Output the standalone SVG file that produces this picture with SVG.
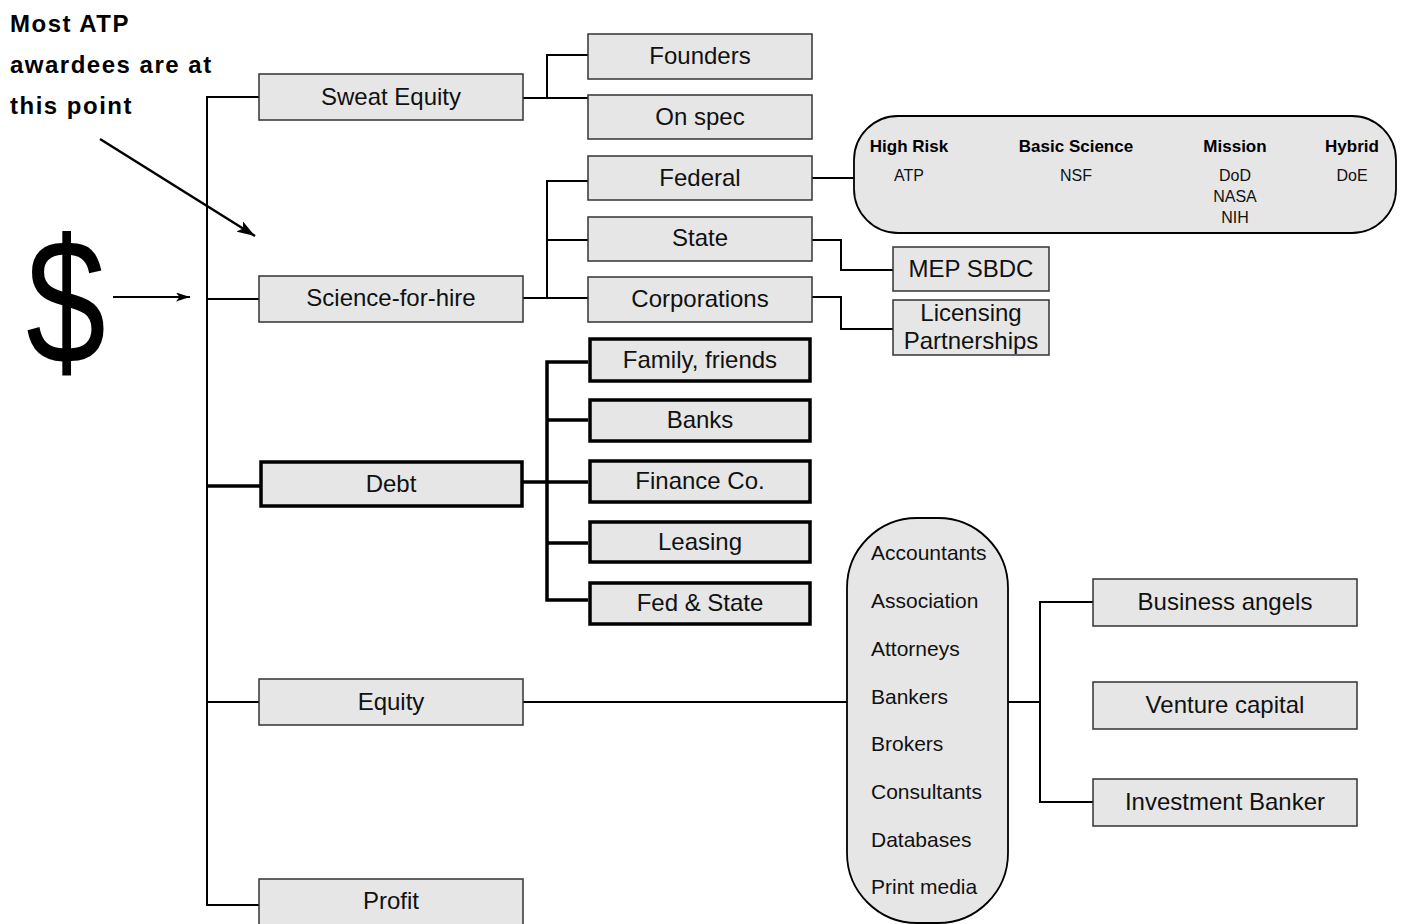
<svg xmlns="http://www.w3.org/2000/svg" width="1403" height="924" viewBox="0 0 1403 924">
  <style>
    .box { fill: #e6e6e6; stroke: #333; stroke-width: 1.5; }
    .box-bold { fill: #e6e6e6; stroke: #000; stroke-width: 3.5; }
    .pill { fill: #e6e6e6; stroke: #000; stroke-width: 1.8; }
    .lbl { font-family: "Liberation Sans", Arial, sans-serif; font-size: 24px; fill: #111; text-anchor: middle; }
    .note { font-family: "Liberation Sans", Arial, sans-serif; font-size: 24px; font-weight: bold; fill: #000; letter-spacing: 1.5px; }
    .head { font-family: "Liberation Sans", Arial, sans-serif; font-size: 17px; font-weight: bold; fill: #000; text-anchor: middle; }
    .val { font-family: "Liberation Sans", Arial, sans-serif; font-size: 16px; fill: #111; text-anchor: middle; }
    .item { font-family: "Liberation Sans", Arial, sans-serif; font-size: 21px; fill: #111; }
    .ln { fill: none; stroke: #000; stroke-width: 2; }
    .ln-bold { fill: none; stroke: #000; stroke-width: 3.5; }
  </style>
  <defs>
    <marker id="arrow" viewBox="0 0 14 9" refX="14" refY="4.5" markerWidth="14" markerHeight="9" markerUnits="userSpaceOnUse" orient="auto">
      <path d="M0,0 L14,4.5 L0,9 L3.5,4.5 Z" fill="#000"/>
    </marker>
    <marker id="arrow-lg" viewBox="0 0 18 12" refX="18" refY="6" markerWidth="18" markerHeight="12" markerUnits="userSpaceOnUse" orient="auto">
      <path d="M0,0 L18,6 L0,12 L4,6 Z" fill="#000"/>
    </marker>
  </defs>

  <!-- annotation and money symbol -->
  <g id="annotation">
    <text class="note" x="10" y="32">Most ATP</text>
    <text class="note" x="10" y="73">awardees are at</text>
    <text class="note" x="10" y="114">this point</text>
    <line x1="100" y1="139" x2="255" y2="236" stroke="#000" stroke-width="2.5" marker-end="url(#arrow-lg)"/>
  </g>
  <g id="dollar">
    <text transform="translate(26,363) scale(0.87,1.075)" font-family="Liberation Sans, Arial, sans-serif" font-size="165" fill="#000">$</text>
    <line x1="113" y1="297" x2="190" y2="297" stroke="#000" stroke-width="2" marker-end="url(#arrow)"/>
  </g>

  <!-- connectors -->
  <g id="connectors">
    <!-- trunk -->
    <polyline class="ln" points="259,97 207,97 207,905 259,905"/>
    <line class="ln" x1="207" y1="299" x2="259" y2="299"/>
    <line class="ln-bold" x1="207" y1="486" x2="260" y2="486"/>
    <line class="ln" x1="207" y1="702" x2="259" y2="702"/>
    <!-- sweat equity -->
    <polyline class="ln" points="523,98 588,98"/>
    <polyline class="ln" points="588,55 547,55 547,98"/>
    <!-- science-for-hire -->
    <polyline class="ln" points="523,298 588,298"/>
    <polyline class="ln" points="588,181 547,181 547,298"/>
    <line class="ln" x1="547" y1="240" x2="588" y2="240"/>
    <line class="ln" x1="812" y1="178" x2="855" y2="178"/>
    <polyline class="ln" points="812,240 841,240 841,270 893,270"/>
    <polyline class="ln" points="812,297 841,297 841,329 893,329"/>
    <!-- debt -->
    <line class="ln-bold" x1="523" y1="482" x2="588" y2="482"/>
    <polyline class="ln-bold" points="588,362 547,362 547,600 588,600"/>
    <line class="ln-bold" x1="547" y1="420" x2="588" y2="420"/>
    <line class="ln-bold" x1="547" y1="543" x2="588" y2="543"/>
    <!-- equity -->
    <line class="ln" x1="523" y1="702" x2="847" y2="702"/>
    <line class="ln" x1="1008" y1="702" x2="1040" y2="702"/>
    <polyline class="ln" points="1093,602 1040,602 1040,802 1093,802"/>
  </g>

  <!-- level 1 -->
  <g id="sweat-equity"><rect class="box" x="259" y="74" width="264" height="46"/><text class="lbl" x="391" y="105">Sweat Equity</text></g>
  <g id="science-for-hire"><rect class="box" x="259" y="276" width="264" height="46"/><text class="lbl" x="391" y="306">Science-for-hire</text></g>
  <g id="debt"><rect class="box-bold" x="261" y="462" width="261" height="44"/><text class="lbl" x="391" y="492">Debt</text></g>
  <g id="equity"><rect class="box" x="259" y="679" width="264" height="46"/><text class="lbl" x="391" y="710">Equity</text></g>
  <g id="profit"><rect class="box" x="259" y="879" width="264" height="46"/><text class="lbl" x="391" y="909">Profit</text></g>

  <!-- level 2 -->
  <g id="founders"><rect class="box" x="588" y="34" width="224" height="45"/><text class="lbl" x="700" y="64">Founders</text></g>
  <g id="on-spec"><rect class="box" x="588" y="95" width="224" height="44"/><text class="lbl" x="700" y="125">On spec</text></g>
  <g id="federal"><rect class="box" x="588" y="156" width="224" height="44"/><text class="lbl" x="700" y="186">Federal</text></g>
  <g id="state"><rect class="box" x="588" y="217" width="224" height="44"/><text class="lbl" x="700" y="246">State</text></g>
  <g id="corporations"><rect class="box" x="588" y="277" width="224" height="45"/><text class="lbl" x="700" y="307">Corporations</text></g>

  <g id="family-friends"><rect class="box-bold" x="590" y="339" width="220" height="42"/><text class="lbl" x="700" y="368">Family, friends</text></g>
  <g id="banks"><rect class="box-bold" x="590" y="400" width="220" height="41"/><text class="lbl" x="700" y="428">Banks</text></g>
  <g id="finance-co"><rect class="box-bold" x="590" y="461" width="220" height="41"/><text class="lbl" x="700" y="489">Finance Co.</text></g>
  <g id="leasing"><rect class="box-bold" x="590" y="522" width="220" height="40"/><text class="lbl" x="700" y="550">Leasing</text></g>
  <g id="fed-state"><rect class="box-bold" x="590" y="583" width="220" height="41"/><text class="lbl" x="700" y="611">Fed &amp; State</text></g>

  <!-- level 3 -->
  <g id="federal-programs">
    <rect class="pill" x="854" y="116" width="542" height="117" rx="44" ry="44"/>
    <text class="head" x="909" y="152">High Risk</text>
    <text class="head" x="1076" y="152">Basic Science</text>
    <text class="head" x="1235" y="152">Mission</text>
    <text class="head" x="1352" y="152">Hybrid</text>
    <text class="val" x="909" y="181">ATP</text>
    <text class="val" x="1076" y="181">NSF</text>
    <text class="val" x="1235" y="181">DoD</text>
    <text class="val" x="1235" y="202">NASA</text>
    <text class="val" x="1235" y="223">NIH</text>
    <text class="val" x="1352" y="181">DoE</text>
  </g>
  <g id="mep-sbdc"><rect class="box" x="893" y="247" width="156" height="44"/><text class="lbl" x="971" y="277">MEP SBDC</text></g>
  <g id="licensing"><rect class="box" x="893" y="300" width="156" height="55"/><text class="lbl" x="971" y="321">Licensing</text><text class="lbl" x="971" y="349">Partnerships</text></g>

  <g id="intermediaries">
    <rect class="pill" x="847" y="518" width="161" height="405" rx="70" ry="70"/>
    <text class="item" x="871" y="560">Accountants</text>
    <text class="item" x="871" y="608">Association</text>
    <text class="item" x="871" y="656">Attorneys</text>
    <text class="item" x="871" y="704">Bankers</text>
    <text class="item" x="871" y="751">Brokers</text>
    <text class="item" x="871" y="799">Consultants</text>
    <text class="item" x="871" y="847">Databases</text>
    <text class="item" x="871" y="894">Print media</text>
  </g>
  <g id="business-angels"><rect class="box" x="1093" y="579" width="264" height="47"/><text class="lbl" x="1225" y="610">Business angels</text></g>
  <g id="venture-capital"><rect class="box" x="1093" y="682" width="264" height="47"/><text class="lbl" x="1225" y="713">Venture capital</text></g>
  <g id="investment-banker"><rect class="box" x="1093" y="779" width="264" height="47"/><text class="lbl" x="1225" y="810">Investment Banker</text></g>
</svg>
